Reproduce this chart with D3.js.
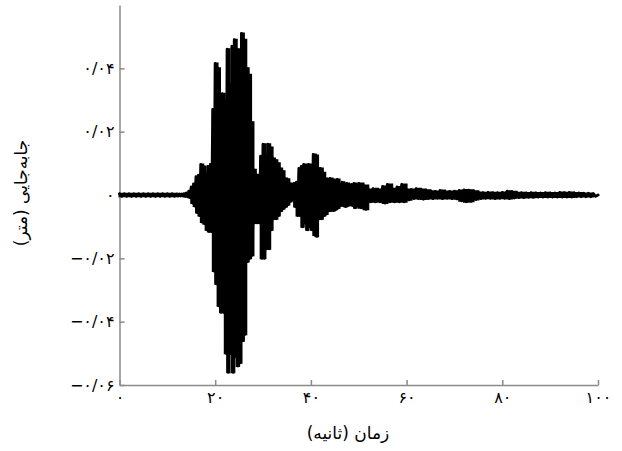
<!DOCTYPE html>
<html>
<head>
<meta charset="utf-8">
<script src="https://cdn.jsdelivr.net/npm/d3@7"></script>
<style>
  html, body { margin: 0; padding: 0; background: #fff; }
  svg { display: block; }
  text { font-family: "DejaVu Sans", sans-serif; fill: #000; }
</style>
</head>
<body>
<div id="chart"></div>
<script>
// displacement record, drawn as alternating peak / trough values (metres)
const quietStart = 0;
const quietStep = 1;
const quietPeaks = [0.0004, 0.0004, 0.0004, 0.0004, 0.0004, 0.0004, 0.0004, 0.0004, 0.0004, 0.0004, 0.0004, 0.0004];
const quietTroughs = [-0.0004, -0.0004, -0.0004, -0.0004, -0.0004, -0.0004, -0.0004, -0.0004, -0.0004, -0.0004, -0.0004, -0.0004];

const strongStart = 12;
const strongStep = 0.5;
const strongPeaks = [
  0.0003, 0.0003, 0.0003, 0.0004, 0.0006, 0.0012, 0.0025, 0.0035, 0.0058, 0.0062,
  0.0096, 0.0090, 0.0068, 0.0090, 0.0096, 0.027, 0.0415, 0.040, 0.018, 0.032,
  0.030, 0.046, 0.035, 0.047, 0.049, 0.046, 0.044, 0.051, 0.049, 0.040,
  0.038, 0.023, 0.008, 0.0064, 0.006, 0.0122, 0.016, 0.0125, 0.016, 0.015,
  0.0115, 0.011, 0.010, 0.0084, 0.0075, 0.0052, 0.0050, 0.0036, 0.0033, 0.0036,
  0.0040, 0.0084, 0.0090, 0.0096, 0.0090, 0.0096, 0.0092, 0.0128, 0.0125, 0.0084,
  0.0084, 0.0070, 0.0052, 0.0050, 0.0052, 0.0049, 0.0045, 0.0049, 0.0033, 0.0040,
  0.0033, 0.0036, 0.0030, 0.0033, 0.0036, 0.0030
];
const strongTroughs = [
  -0.0003, -0.0003, -0.0003, -0.0004, -0.0005, -0.0008, -0.0025, -0.0035, -0.0055, -0.0065,
  -0.0085, -0.0090, -0.0110, -0.0115, -0.0115, -0.024, -0.028, -0.035, -0.037, -0.037,
  -0.050, -0.056, -0.050, -0.056, -0.051, -0.054, -0.053, -0.046, -0.044, -0.021,
  -0.020, -0.019, -0.0088, -0.0088, -0.0088, -0.020, -0.020, -0.017, -0.017, -0.011,
  -0.0075, -0.0075, -0.0065, -0.0050, -0.0043, -0.0036, -0.0030, -0.0020, -0.0015, -0.0036,
  -0.0065, -0.0065, -0.0100, -0.0088, -0.0110, -0.0100, -0.0110, -0.0126, -0.0130, -0.0075,
  -0.0075, -0.0065, -0.0060, -0.0050, -0.0049, -0.0049, -0.0045, -0.0040, -0.0033, -0.0033,
  -0.0036, -0.0033, -0.0030, -0.0033, -0.0040, -0.0035
];

const tailStart = 50;
const tailStep = 1;
const tailPeaks = [
  0.0036, 0.0030, 0.0017, 0.0020, 0.0017, 0.0027, 0.0033, 0.0020, 0.0025, 0.0033,
  0.0017, 0.0017, 0.0020, 0.0017, 0.0015, 0.0012, 0.0011, 0.0014, 0.0011, 0.0011,
  0.0012, 0.0014, 0.0016, 0.0015, 0.0012, 0.0008, 0.0007, 0.0008, 0.0007, 0.0007,
  0.0008, 0.0012, 0.0010, 0.0007, 0.0007, 0.0006, 0.0007, 0.0006, 0.0006, 0.0007,
  0.0006, 0.0006, 0.0008, 0.0007, 0.0008, 0.0006, 0.0006, 0.0005, 0.0005, 0.0004
];
const tailTroughs = [
  -0.0040, -0.0045, -0.0021, -0.0021, -0.0021, -0.0025, -0.0021, -0.0021, -0.0021, -0.0021,
  -0.0015, -0.0011, -0.0011, -0.0013, -0.0011, -0.0011, -0.0010, -0.0011, -0.0010, -0.0011,
  -0.0012, -0.0018, -0.0021, -0.0020, -0.0014, -0.0011, -0.0010, -0.0010, -0.0011, -0.0010,
  -0.0010, -0.0011, -0.0009, -0.0008, -0.0008, -0.0007, -0.0007, -0.0006, -0.0006, -0.0006,
  -0.0006, -0.0006, -0.0006, -0.0006, -0.0006, -0.0005, -0.0005, -0.0005, -0.0005, -0.0004
];
const endTime = 100;

const xTicks = [0, 20, 40, 60, 80, 100];
const xTickLabels = ["۰", "۲۰", "۴۰", "۶۰", "۸۰", "۱۰۰"];
const yTicks = [0.04, 0.02, 0, -0.02, -0.04, -0.06];
const yTickLabels = ["۰/۰۴", "۰/۰۲", "۰", "−۰/۰۲", "−۰/۰۴", "−۰/۰۶"];
const xTitle = "زمان (ثانیه)";
const yTitle = "جابه‌جایی (متر)";

const width = 622;
const height = 451;

const x = d3.scaleLinear().domain([0, 100]).range([119.5, 598]);
const y = d3.scaleLinear().domain([-0.06, 0.06]).range([385, 5]);

function segment(start, step, peaks, troughs) {
  return peaks.map((p, i) => ({t: start + i * step, step, peak: p, trough: troughs[i]}));
}

const records = [
  ...segment(quietStart, quietStep, quietPeaks, quietTroughs),
  ...segment(strongStart, strongStep, strongPeaks, strongTroughs),
  ...segment(tailStart, tailStep, tailPeaks, tailTroughs)
];

// trace: each peak, then its trough half a step later
const points = records.flatMap((d) => [[d.t, d.peak], [d.t + d.step / 2, d.trough]]);
points.push([endTime, 0]);

const svg = d3.select("#chart")
  .append("svg")
  .attr("width", width)
  .attr("height", height)
  .attr("viewBox", [0, 0, width, height]);

const axisColor = "#8a8a8a";

svg.append("g")
  .attr("transform", `translate(0,${y(-0.06)})`)
  .call(d3.axisBottom(x)
    .tickValues(xTicks)
    .tickSizeInner(-5)
    .tickSizeOuter(0)
    .tickPadding(7)
    .tickFormat((d, i) => xTickLabels[i]))
  .call((axis) => axis.selectAll("line,path").attr("stroke", axisColor).attr("stroke-width", 1.5))
  .call((axis) => axis.selectAll("text").attr("font-size", 16).attr("fill", "#000").attr("letter-spacing", 1));

svg.append("g")
  .attr("transform", `translate(${x(0)},0)`)
  .call(d3.axisLeft(y)
    .tickValues(yTicks)
    .tickSizeInner(-5)
    .tickSizeOuter(0)
    .tickPadding(5)
    .tickFormat((d, i) => yTickLabels[i]))
  .call((axis) => axis.selectAll("line,path").attr("stroke", axisColor).attr("stroke-width", 1.5))
  .call((axis) => axis.selectAll("text")
    .attr("font-size", 16)
    .attr("fill", "#000")
    .attr("direction", "ltr")
    .attr("letter-spacing", 1.5));

// solid band between the peaks and the troughs
const band = d3.area()
  .curve(d3.curveStepAfter)
  .x((d) => x(d.t))
  .y0((d) => y(d.trough))
  .y1((d) => y(d.peak));

svg.append("path")
  .datum(records)
  .attr("fill", "#000")
  .attr("stroke", "#000")
  .attr("stroke-width", 2)
  .attr("d", band);

const line = d3.line()
  .x((d) => x(d[0]))
  .y((d) => y(d[1]));

svg.append("path")
  .datum(points)
  .attr("fill", "none")
  .attr("stroke", "#000")
  .attr("stroke-width", 3)
  .attr("stroke-linejoin", "round")
  .attr("stroke-linecap", "round")
  .attr("d", line);

svg.append("text")
  .attr("x", 348)
  .attr("y", 439)
  .attr("text-anchor", "middle")
  .attr("font-size", 17)
  .attr("direction", "rtl")
  .text(xTitle);

svg.append("text")
  .attr("transform", `translate(27,193) rotate(-90)`)
  .attr("text-anchor", "middle")
  .attr("font-size", 17)
  .attr("direction", "rtl")
  .text(yTitle);
</script>
</body>
</html>
